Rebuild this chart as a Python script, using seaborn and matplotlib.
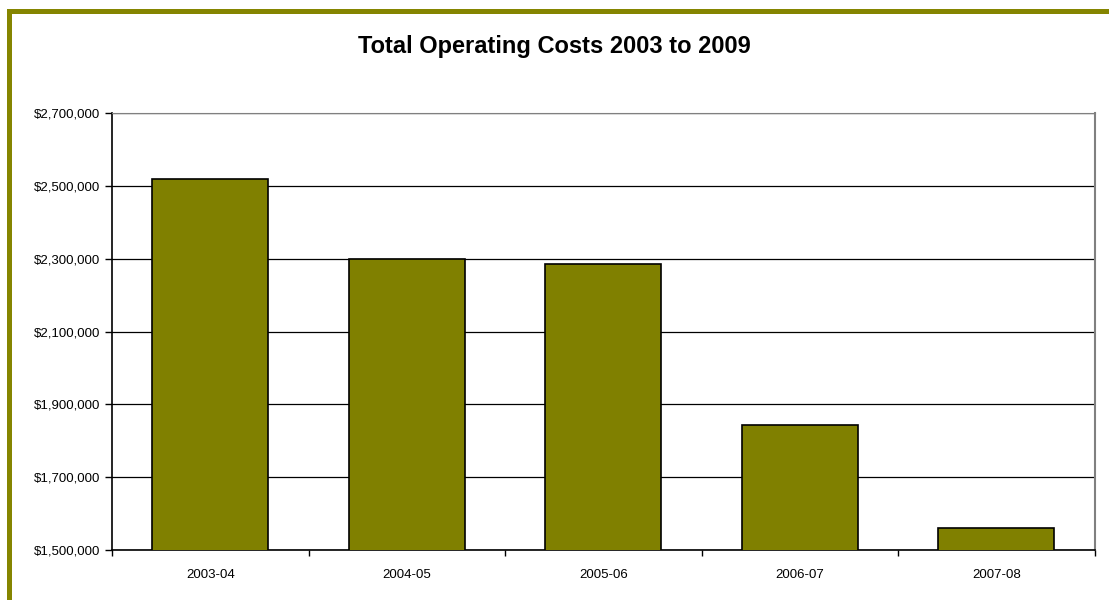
import matplotlib

matplotlib.use("Agg")

import matplotlib.pyplot as plt
import pandas as pd
import seaborn as sns
from matplotlib.patches import Rectangle
from matplotlib.ticker import FuncFormatter, FixedLocator

years = ["2003-04", "2004-05", "2005-06", "2006-07", "2007-08"]
costs = [2520000, 2299000, 2286000, 1842000, 1561000]
y_ticks = [1500000, 1700000, 1900000, 2100000, 2300000, 2500000, 2700000]

df = pd.DataFrame({"year": years, "cost": costs})

sns.set_style("white")
plt.rcParams["font.family"] = ["Liberation Sans", "DejaVu Sans"]
plt.rcParams["text.color"] = "black"
plt.rcParams["xtick.color"] = "black"
plt.rcParams["ytick.color"] = "black"

fig = plt.figure(figsize=(11.09, 6), dpi=100)
ax = fig.add_axes([0.101, 0.0833, 0.886, 0.7284])

sns.barplot(data=df, x="year", y="cost", color="#808000", saturation=1,
            width=0.59, edgecolor="black", linewidth=1.2, ax=ax, zorder=3)

ax.set_ylim(1500000, 2700000)
ax.set_yticks(y_ticks)
ax.yaxis.set_major_formatter(FuncFormatter(lambda v, _: f"${v:,.0f}"))
ax.grid(axis="y", color="black", linewidth=0.9, zorder=0)
ax.set_axisbelow(True)
ax.set_xlim(-0.5, len(years) - 0.5)

ax.tick_params(axis="y", length=5, width=1, color="black", labelsize=9.5, direction="out",
               left=True, labelcolor="black")
ax.tick_params(axis="x", which="major", length=0, labelsize=9.5, pad=14, labelcolor="black")
ax.xaxis.set_minor_locator(FixedLocator([i - 0.5 for i in range(len(years) + 1)]))
ax.tick_params(axis="x", which="minor", length=4, width=1, color="black", direction="out", bottom=True)

ax.set_xlabel("")
ax.set_ylabel("")
ax.spines["left"].set_color("black")
ax.spines["bottom"].set_color("black")
ax.spines["left"].set_linewidth(1.2)
ax.spines["bottom"].set_linewidth(1.2)
ax.spines["right"].set_color("#808080")
ax.spines["top"].set_color("#808080")
ax.spines["right"].set_linewidth(1.5)

fig.text(0.5, 0.922, "Total Operating Costs 2003 to 2009", ha="center", va="center",
         fontsize=17, fontweight="bold", color="black")

# olive frame around the chart, clipped at right/bottom like the original
fig.patches.append(Rectangle((0.0077, -0.05), 1.1, 1.0325, transform=fig.transFigure,
                             fill=False, edgecolor="#858500", linewidth=3.6, zorder=10))

fig.savefig("out.png", dpi=100)
plt.close(fig)
